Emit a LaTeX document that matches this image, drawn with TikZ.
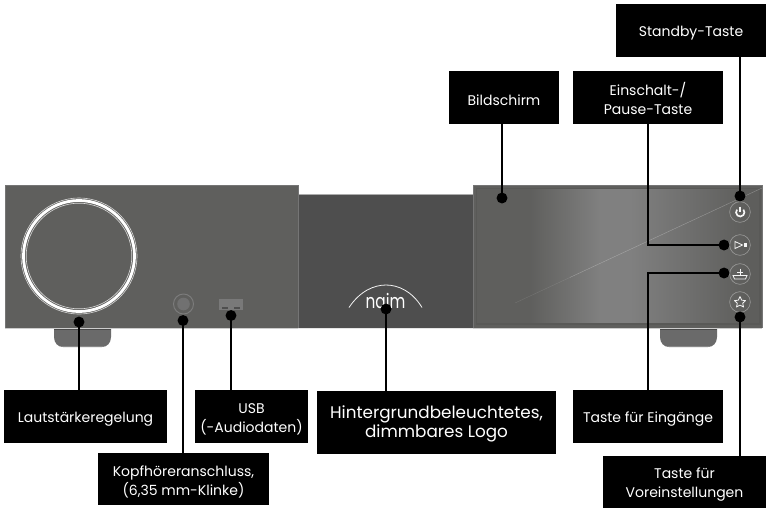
\documentclass[tikz,border=0pt]{standalone}
\usepackage{fontspec}
\setmainfont{Poppins}
\usetikzlibrary{shadings}
\definecolor{unitgray}{HTML}{5F5F5D}
\definecolor{midgray}{HTML}{4E4E4E}
\definecolor{edgegray}{HTML}{757575}
\definecolor{screenA}{HTML}{5F5F5D}
\definecolor{screenB}{HTML}{808080}
\definecolor{screenC}{HTML}{5E5E5C}
\definecolor{footgray}{HTML}{6A6A6A}
\definecolor{jackring}{HTML}{7C7C7C}
\definecolor{jackcore}{HTML}{717171}
\newcommand{\lift}{\rule{0pt}{12pt}}
\tikzset{
  lbl/.style={fill=black,text=white,inner sep=0pt,align=center,font=\fontsize{10.5}{14.2}\selectfont},
  lblbig/.style={lbl,font=\fontsize{12.6}{14.2}\selectfont},
  dotmark/.style={circle,fill=black,inner sep=0pt,minimum size=8.2pt},
  lead/.style={draw=black,line width=2.2pt,line join=miter},
  btn/.style={circle,draw=white!38!unitgray,line width=0.45pt,inner sep=0pt,minimum size=15.5pt},
  icon/.style={draw=white!92!gray,line width=0.6pt},
}
\begin{document}
\begin{tikzpicture}[x=0.75pt,y=-0.75pt]
\useasboundingbox (0,0) rectangle (767,508);
% feet
\foreach \xa in {54,660}{
  \fill[footgray] (\xa,328) -- (\xa,337) .. controls (\xa,343) and (\xa+4,347) .. (\xa+9,347)
    -- (\xa+48,347) .. controls (\xa+53,347) and (\xa+57,343) .. (\xa+57,337) -- (\xa+57,328) -- cycle;
  \fill[black!30!footgray] (\xa,328) rectangle (\xa+57,330);
  \fill[white!20!footgray] (\xa+8,345.7) rectangle (\xa+49,347);
}
% middle section
\fill[midgray] (298,194.5) rectangle (474,328);
\draw[edgegray!60!white,line width=0.5pt] (298,194.5) -- (474,194.5);
\draw[white!80!gray,line width=0.5pt] (298,328.3) -- (474,328.3);
% left unit
\fill[unitgray] (5,185) rectangle (298,328);
\draw[edgegray,line width=0.6pt] (5,328) -- (5,185) -- (298,185) -- (298,328);
\draw[white!60!gray,line width=0.6pt] (5,328.3) -- (298,328.3);
% knob
\draw[white!70!gray,line width=0.45pt] (79,256) circle[radius=58];
\draw[white,line width=2.1pt] (79,256) circle[radius=55.5];
\draw[white!70!gray,line width=0.45pt] (79,256) circle[radius=52.8];
% jack
\draw[jackring,line width=0.7pt,fill=unitgray] (183.5,304) circle[radius=10];
\fill[jackcore] (183.5,304) circle[radius=6.3];
% usb
\fill[footgray!90!white] (219,299) rectangle (243,310);
\fill[midgray] (222,306.5) rectangle (240,309) ;
\fill[footgray!90!white] (228,306.5) rectangle (234,309);
% right unit
\fill[unitgray] (473,185) rectangle (762,328);
\fill[screenA] (477,189) rectangle (530,324);
\shade[left color=screenA,right color=screenB] (530,189) rectangle (600,324);
\fill[screenB] (600,189) rectangle (630,324);
\shade[left color=screenB,right color=screenC] (630,189) rectangle (745,324);
\fill[screenC] (745,189) rectangle (760,324);
\draw[black!6!unitgray,line width=1pt] (476.5,188.5) rectangle (760,324);
\draw[edgegray,line width=0.6pt] (473,328) -- (473,185) -- (762,185) -- (762,328);
\draw[white!60!gray,line width=0.6pt] (473,328.3) -- (762,328.3);
\draw[white,opacity=0.12,line width=0.3pt] (515,303) -- (570,277.4);
\draw[white,opacity=0.3,line width=0.3pt] (570,277.4) -- (762,188);
% buttons
\node[btn] (bpower) at (740,212) {};
\node[btn] (bplay) at (740,245) {};
\node[btn] (binput) at (740,274) {};
\node[btn] (bstar) at (740,302) {};
% icons
\draw[icon,line width=1.25pt] (737,209.6) arc[start angle=220,end angle=-40,radius=4.2];
\draw[icon,line width=1.25pt] (740,206.5) -- (740,212);
\draw[icon] (735,241.5) -- (742.5,245) -- (735,248.5) -- cycle;
\fill[white!92!gray] (743.5,243.2) rectangle (746.5,246.8);
\draw[icon] (733,275.5) -- (747,275.5) -- (745.5,279) -- (734.5,279) -- cycle;
\draw[icon] (740,268.5) -- (740,275.5) (737,272.5) -- (743,272.5);
\draw[icon,line join=round] (740,296.5) -- (741.7,300.2) -- (745.6,300.6) -- (742.7,303.2) -- (743.5,307) -- (740,305.1) -- (736.5,307) -- (737.3,303.2) -- (734.4,300.6) -- (738.3,300.2) -- cycle;
% logo
\draw[white!90!gray,line width=0.6pt] (349,307.5) .. controls (360,291) and (374,285) .. (386,285) .. controls (398,285) and (412,291) .. (422,307.5);
\node[text=white,inner sep=0pt,font=\fontsize{11.5}{12}\selectfont] (logo) at (385.5,300.5) {\scalebox{1.0}[1.3]{naim}};
% labels
\node[lbl,minimum width=150*0.75pt,minimum height=53*0.75pt] (standby) at (691,30.5) {\lift Standby-Taste};
\node[lbl,minimum width=110*0.75pt,minimum height=53*0.75pt] (screen) at (504,97.5) {\lift Bildschirm};
\node[lbl,minimum width=150*0.75pt,minimum height=53*0.75pt] (play) at (648,97.5) {\lift Einschalt-/\\Pause-Taste};
\node[lbl,minimum width=163*0.75pt,minimum height=53*0.75pt] (volume) at (85.5,416.5) {\lift Lautstärkeregelung};
\node[lbl,minimum width=113*0.75pt,minimum height=53*0.75pt] (usb) at (251.5,416.5) {\lift USB\\(-Audiodaten)};
\node[lbl,minimum width=171*0.75pt,minimum height=52*0.75pt] (phones) at (183.5,479) {\lift Kopfhöreranschluss,\\(6,35 mm-Klinke)};
\node[lblbig,minimum width=239*0.75pt,minimum height=63*0.75pt] (backlit) at (436.5,422.5) {\lift Hintergrundbeleuchtetes,\\dimmbares Logo};
\node[lbl,minimum width=150*0.75pt,minimum height=53*0.75pt] (inputs) at (648,416.5) {\lift Taste für Eingänge};
\node[lbl,minimum width=163*0.75pt,minimum height=52*0.75pt] (presets) at (684.5,482) {\lift Taste für\\Voreinstellungen};
% anchors
\node[dotmark] (dvolume) at (79,322) {};
\node[dotmark] (dphones) at (183,320.5) {};
\node[dotmark] (dusb) at (231,315.5) {};
\node[dotmark] (dlogo) at (386,309) {};
\node[dotmark] (dscreen) at (502,198) {};
\node[dotmark] (dstandby) at (740,196) {};
\node[dotmark] (dplay) at (724,245) {};
\node[dotmark] (dinput) at (724,273) {};
\node[dotmark] (dstar) at (740,317) {};
% connectors
\draw[lead] (dvolume.center) -- (dvolume.center |- volume.north);
\draw[lead] (dphones.center) -- (dphones.center |- phones.north);
\draw[lead] (dusb.center) -- (dusb.center |- usb.north);
\draw[lead] (dlogo.center) -- (dlogo.center |- backlit.north);
\draw[lead] (dscreen.center) -- (dscreen.center |- screen.south);
\draw[lead] (dstandby.center) -- (dstandby.center |- standby.south);
\draw[lead] (dstar.center) -- (dstar.center |- presets.north);
\draw[lead] (play.south) |- (dplay.center);
\draw[lead] (inputs.north) |- (dinput.center);
\end{tikzpicture}
\end{document}
